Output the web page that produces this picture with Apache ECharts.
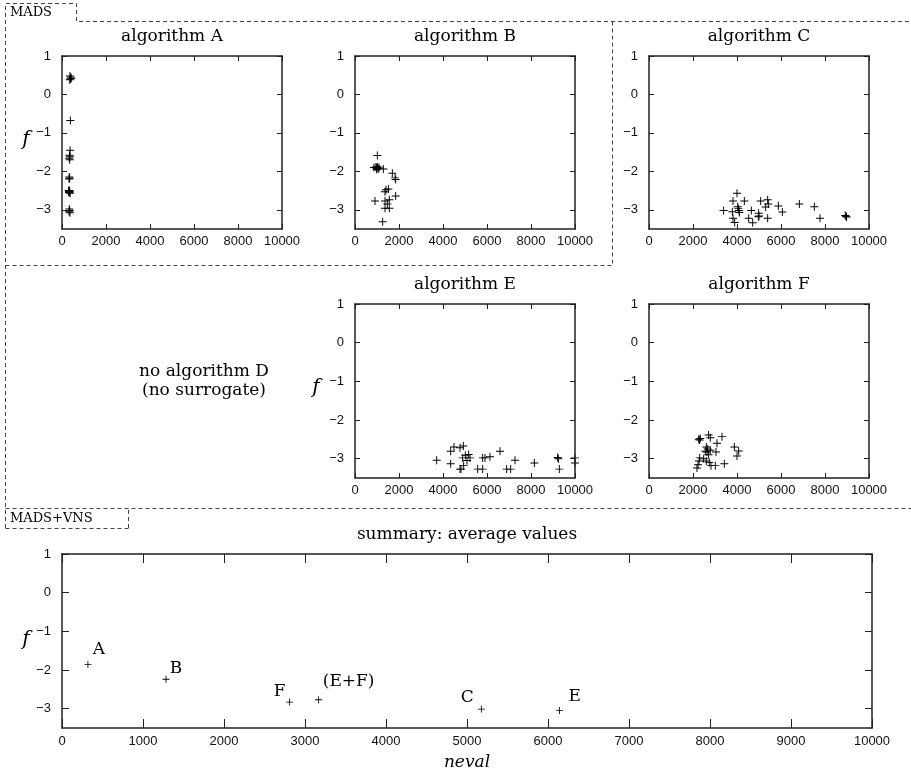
<!DOCTYPE html>
<html>
<head>
<meta charset="utf-8">
<script src="https://cdn.jsdelivr.net/npm/echarts@6/dist/echarts.min.js"></script>
<style>
  html, body { margin: 0; padding: 0; background: #fff; }
  #chart { width: 911px; height: 775px; }
</style>
</head>
<body>
<div id="chart"></div>
<script>
// each run: [neval, f]
const algA = [
  [360, 0.48], [400, 0.45], [420, 0.42], [380, 0.40], [350, 0.38],
  [380, -0.68], [370, -1.45],
  [340, -1.58], [360, -1.62], [330, -1.66], [350, -1.70],
  [330, -2.15], [350, -2.18], [320, -2.20],
  [300, -2.50], [330, -2.52], [350, -2.53], [320, -2.55], [370, -2.57], [340, -2.50], [310, -2.54],
  [330, -2.98], [350, -3.02], [320, -3.05], [360, -3.08]
];
const algB = [
  [1015, -1.59], [864, -1.90], [950, -1.89], [980, -1.92], [1000, -1.90], [1030, -1.88],
  [1060, -1.93], [1100, -1.91], [990, -1.95], [1288, -1.94], [1697, -2.05], [1848, -2.21],
  [1820, -2.17], [1515, -2.46], [1409, -2.48], [1364, -2.53], [1848, -2.64], [909, -2.77],
  [1364, -2.77], [1561, -2.74], [1470, -2.85], [1364, -2.96], [1561, -2.96], [1258, -3.31]
];
const algC = [
  [3392, -3.02], [3818, -2.77], [4000, -2.57], [3788, -3.05], [3818, -3.22], [3894, -3.33],
  [4030, -2.92], [4060, -2.97], [4090, -3.02], [4106, -3.07], [4333, -2.77], [4530, -3.22],
  [4651, -3.02], [4712, -3.34], [4985, -3.09], [4970, -3.18], [5000, -3.16], [5076, -2.77],
  [5303, -2.93], [5394, -2.74], [5424, -2.85], [5394, -3.22], [5879, -2.90], [6061, -3.06],
  [6833, -2.85], [7515, -2.92], [7773, -3.22], [8920, -3.15], [8955, -3.17], [8980, -3.19]
];
const algE = [
  [3712, -3.04], [4348, -2.81], [4500, -2.70], [4348, -3.13], [4773, -2.72], [4924, -2.67],
  [4894, -2.98], [4818, -3.27], [4773, -3.27], [4939, -3.18], [5015, -2.91], [5167, -2.89],
  [5227, -2.98], [5091, -3.05], [5576, -3.27], [5803, -3.27], [5803, -2.98], [5909, -2.98],
  [6136, -2.95], [6591, -2.81], [6894, -3.27], [7076, -3.27], [7273, -3.04], [8152, -3.11],
  [9212, -2.97], [9242, -3.00], [9288, -3.27], [10000, -2.98], [10000, -3.11]
];
const algF = [
  [2180, -3.24], [2227, -3.16], [2273, -3.06], [2303, -2.98], [2330, -2.48], [2258, -2.50],
  [2300, -2.52], [2709, -2.39], [2785, -2.46], [2606, -2.70], [2667, -2.75], [2560, -2.81],
  [2636, -2.83], [2709, -2.90], [2785, -2.78], [2485, -3.00], [2606, -3.06], [2742, -3.10],
  [2818, -3.18], [3015, -3.18], [3045, -2.83], [3090, -2.60], [3318, -2.43], [3424, -3.13],
  [3879, -2.70], [4000, -2.93], [4076, -2.80]
];

// summary: average values
const summaryNames = ['A', 'B', 'F', '(E+F)', 'C', 'E'];
const summaryNeval = [320, 1284, 2810, 3168, 5177, 6143];
const summaryF = [-1.86, -2.24, -2.83, -2.77, -3.01, -3.05];

const fTicks = [-3, -2, -1, 0, 1];

// label placement around the summary points (pixels)
const labelOffsets = {
  'A': [11, -15], 'B': [10, -11], 'F': [-10, -11],
  '(E+F)': [30, -18], 'C': [-14, -11], 'E': [15, -14]
};

const serif = '"DejaVu Serif", "Liberation Serif", serif';
const sans = '"Liberation Sans", Arial, sans-serif';
const plus = 'path://M4.4,0H5.6V4.4H10V5.6H5.6V10H4.4V5.6H0V4.4H4.4Z';

const panels = [
  { title: 'algorithm A', data: algA, left: 62, top: 56, width: 220, height: 173, fLabel: [26, 140] },
  { title: 'algorithm B', data: algB, left: 355, top: 56, width: 220, height: 173 },
  { title: 'algorithm C', data: algC, left: 649, top: 56, width: 220, height: 173 },
  { title: 'algorithm E', data: algE, left: 355, top: 304, width: 220, height: 174, fLabel: [316, 388] },
  { title: 'algorithm F', data: algF, left: 649, top: 304, width: 220, height: 174 },
  {
    title: 'summary: average values',
    data: summaryNeval.map((x, i) => ({ name: summaryNames[i], value: [x, summaryF[i]] })),
    left: 62, top: 554, width: 810, height: 174, fLabel: [26, 640], summary: true
  }
];

const minus = v => String(v).replace('-', '\u2212');

const grid = [], xAxis = [], yAxis = [], series = [], graphic = [];

panels.forEach((p, i) => {
  const big = !!p.summary;
  grid.push({ left: p.left, top: p.top, width: p.width, height: p.height, show: false });
  const xTick = () => ({ show: true, inside: true, length: big ? 9 : 5, lineStyle: { color: '#222', width: 1 } });
  const yTick = () => ({ show: true, inside: true, length: big ? 7 : 5, customValues: fTicks, lineStyle: { color: '#222', width: 1 } });
  const frame = () => ({ show: true, onZero: false, lineStyle: { color: '#222', width: 1.5 } });
  xAxis.push({
    gridIndex: i, type: 'value', position: 'bottom', z: 5,
    min: 0, max: 10000, interval: big ? 1000 : 2000,
    axisLine: frame(), splitLine: { show: false }, axisTick: xTick(),
    axisLabel: { show: true, formatter: v => String(v), fontFamily: sans, fontSize: 13, color: '#111', margin: big ? 7 : 6 }
  });
  xAxis.push({
    gridIndex: i, type: 'value', position: 'top', z: 5,
    min: 0, max: 10000, interval: big ? 1000 : 2000,
    axisLine: frame(), splitLine: { show: false }, axisTick: xTick(),
    axisLabel: { show: false }
  });
  yAxis.push({
    gridIndex: i, type: 'value', position: 'left', z: 5, min: -3.5, max: 1,
    axisLine: frame(), splitLine: { show: false }, axisTick: yTick(),
    axisLabel: { show: true, customValues: fTicks, formatter: minus, fontFamily: sans, fontSize: 13, color: '#111', margin: 11 }
  });
  yAxis.push({
    gridIndex: i, type: 'value', position: 'right', z: 5, min: -3.5, max: 1,
    axisLine: frame(), splitLine: { show: false }, axisTick: yTick(),
    axisLabel: { show: false }
  });

  series.push({
    type: 'scatter',
    xAxisIndex: 2 * i, yAxisIndex: 2 * i,
    data: p.data,
    symbol: plus,
    symbolSize: big ? 7 : 8,
    itemStyle: { color: '#000', opacity: 1 },
    silent: true,
    label: big ? {
      show: true,
      position: 'inside',
      formatter: d => d.name,
      fontFamily: serif, fontSize: 17, color: '#000'
    } : { show: false },
    labelLayout: big ? (params => {
      const name = summaryNames[params.dataIndex];
      const off = labelOffsets[name];
      const r = params.rect;
      return { x: r.x + r.width / 2 + off[0], y: r.y + r.height / 2 + off[1], align: 'center', verticalAlign: 'middle' };
    }) : undefined
  });

  graphic.push({
    type: 'text', x: p.left + p.width / 2, y: p.top - 19, silent: true,
    style: { text: p.title, font: '17px ' + serif, fill: '#000', align: 'center', verticalAlign: 'middle' }
  });
  if (p.fLabel) {
    graphic.push({
      type: 'text', x: p.fLabel[0], y: p.fLabel[1], silent: true,
      style: { text: 'f', font: 'italic 20px ' + serif, fill: '#000', align: 'center', verticalAlign: 'middle' }
    });
  }
});

// the missing panel
graphic.push({
  type: 'text', x: 204, y: 381, silent: true,
  style: { text: 'no algorithm D\n(no surrogate)', font: '17px ' + serif, lineHeight: 19, fill: '#000', align: 'center', verticalAlign: 'middle' }
});
graphic.push({
  type: 'text', x: 467, y: 763, silent: true,
  style: { text: 'neval', font: 'italic 17px ' + serif, fill: '#000', align: 'center', verticalAlign: 'middle' }
});

// dashed group frames
const dash = { stroke: '#444', lineWidth: 1, lineDash: [4, 3], fill: null };
const frames = [
  [[5.5, 528], [5.5, 3.5], [76.5, 3.5], [76.5, 21.5], [911, 21.5]],
  [[5.5, 265.5], [612.5, 265.5], [612.5, 21.5]],
  [[128.5, 528], [128.5, 508.5]],
  [[5.5, 508.5], [911, 508.5]],
  [[5.5, 528.5], [128.5, 528.5]]
];
frames.forEach(pts => graphic.push({ type: 'polyline', silent: true, shape: { points: pts }, style: dash }));
graphic.push({
  type: 'text', x: 10, y: 12.5, silent: true,
  style: { text: 'MADS', font: '13px ' + serif, fill: '#000', align: 'left', verticalAlign: 'middle' }
});
graphic.push({
  type: 'text', x: 10, y: 518.5, silent: true,
  style: { text: 'MADS+VNS', font: '13px ' + serif, fill: '#000', align: 'left', verticalAlign: 'middle' }
});

const chart = echarts.init(document.getElementById('chart'));
chart.setOption({
  animation: false,
  backgroundColor: '#fff',
  grid, xAxis, yAxis, series, graphic
});
</script>
</body>
</html>
